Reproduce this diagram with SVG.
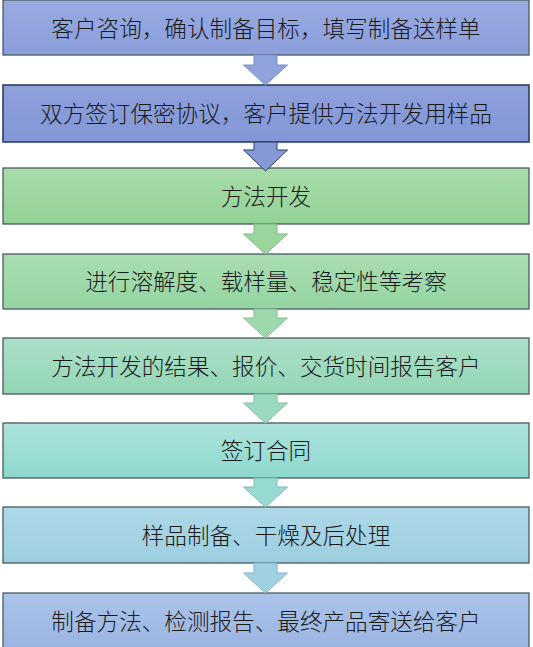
<svg xmlns="http://www.w3.org/2000/svg" width="533" height="647" viewBox="0 0 533 647">
<defs>
<linearGradient id="g1" x1="0" y1="0" x2="0" y2="1"><stop offset="0" stop-color="#98AAE0"/><stop offset="1" stop-color="#8B9EDA"/></linearGradient>
<linearGradient id="g2" x1="0" y1="0" x2="0" y2="1"><stop offset="0" stop-color="#8EA1DC"/><stop offset="1" stop-color="#8396D6"/></linearGradient>
<linearGradient id="g3" x1="0" y1="0" x2="0" y2="1"><stop offset="0" stop-color="#A8DCA9"/><stop offset="1" stop-color="#93D295"/></linearGradient>
<linearGradient id="g4" x1="0" y1="0" x2="0" y2="1"><stop offset="0" stop-color="#A9DDB1"/><stop offset="1" stop-color="#95D5A2"/></linearGradient>
<linearGradient id="g5" x1="0" y1="0" x2="0" y2="1"><stop offset="0" stop-color="#ACDFC8"/><stop offset="1" stop-color="#93D6B5"/></linearGradient>
<linearGradient id="g6" x1="0" y1="0" x2="0" y2="1"><stop offset="0" stop-color="#ADE3DC"/><stop offset="1" stop-color="#8DD8CE"/></linearGradient>
<linearGradient id="g7" x1="0" y1="0" x2="0" y2="1"><stop offset="0" stop-color="#AED8E8"/><stop offset="1" stop-color="#9CCEE0"/></linearGradient>
<linearGradient id="g8" x1="0" y1="0" x2="0" y2="1"><stop offset="0" stop-color="#ABC4EA"/><stop offset="1" stop-color="#9BB4E0"/></linearGradient>
</defs>
<style>
.box{stroke:#4B5A60;stroke-width:1.3}
.t{font-family:"Noto Sans CJK SC","Noto Sans CJK JP",sans-serif;font-size:22.6px;font-weight:300;fill:#1A1A1A;text-anchor:middle}
.a{stroke-width:1;stroke-linejoin:miter}
</style>
<rect width="533" height="647" fill="#FFFFFF"/>
<g id="n1"><rect class="box" x="3" y="0" width="526" height="55" fill="url(#g1)" stroke="#4A5A80"/><text class="t" x="266" y="37">客户咨询，确认制备目标，填写制备送样单</text></g>
<g id="n2"><rect class="box" x="3" y="85" width="526" height="57" fill="url(#g2)" style="stroke:#2D3C68;stroke-width:1.6"/><text class="t" x="266" y="122">双方签订保密协议，客户提供方法开发用样品</text></g>
<g id="n3"><rect class="box" x="3" y="168" width="526" height="56" fill="url(#g3)"/><text class="t" x="266" y="205">方法开发</text></g>
<g id="n4"><rect class="box" x="3" y="254" width="526" height="55" fill="url(#g4)"/><text class="t" x="266" y="290">进行溶解度、载样量、稳定性等考察</text></g>
<g id="n5"><rect class="box" x="3" y="338" width="526" height="56" fill="url(#g5)"/><text class="t" x="266" y="375">方法开发的结果、报价、交货时间报告客户</text></g>
<g id="n6"><rect class="box" x="3" y="423" width="526" height="55" fill="url(#g6)"/><text class="t" x="266" y="459">签订合同</text></g>
<g id="n7"><rect class="box" x="3" y="507" width="526" height="56" fill="url(#g7)"/><text class="t" x="266" y="544">样品制备、干燥及后处理</text></g>
<g id="n8"><rect class="box" x="3" y="593" width="526" height="56" fill="url(#g8)"/><text class="t" x="266" y="630">制备方法、检测报告、最终产品寄送给客户</text></g>
<g id="connectors">
<path class="a" d="M254,55 L277,55 L277,65 L287.5,65 L265.5,85 L243.5,65 L254,65 Z" fill="#8FA2DB" stroke="#7A8EC8"/>
<path class="a" d="M254,142 L277,142 L277,150 L287.5,150 L265.5,171 L243.5,150 L254,150 Z" fill="#8699D7" stroke="#2D3C68" stroke-width="1.3"/>
<path class="a" d="M254,224 L277,224 L277,234 L287.5,234 L265.5,254 L243.5,234 L254,234 Z" fill="#9AD59C" stroke="#7FB883"/>
<path class="a" d="M254,309 L277,309 L277,318 L287.5,318 L265.5,338 L243.5,318 L254,318 Z" fill="#9ED8AC" stroke="#82BC92"/>
<path class="a" d="M254,394 L277,394 L277,403 L287.5,403 L265.5,423 L243.5,403 L254,403 Z" fill="#9CDABF" stroke="#80BDA3"/>
<path class="a" d="M254,478 L277,478 L277,487 L287.5,487 L265.5,507 L243.5,487 L254,487 Z" fill="#96DAD2" stroke="#7ABCB4"/>
<path class="a" d="M254,563 L277,563 L277,573 L287.5,573 L265.5,593 L243.5,573 L254,573 Z" fill="#A0D1E2" stroke="#82B3C4"/>
</g>
</svg>
